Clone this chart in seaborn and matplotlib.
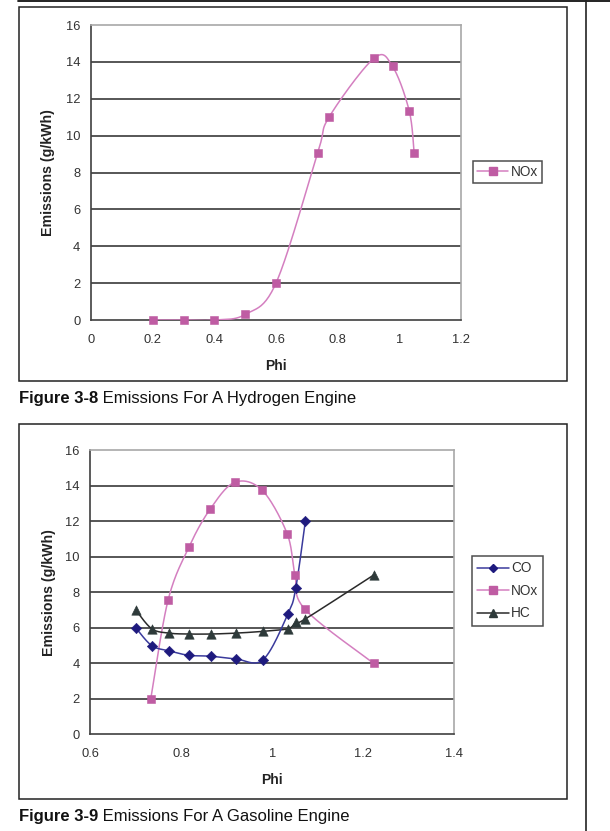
import numpy as np
import matplotlib
matplotlib.use("Agg")
import matplotlib.pyplot as plt
import seaborn as sns
from matplotlib.lines import Line2D
from matplotlib.patches import Rectangle

# ---------------- data ----------------
# Figure 3-8: hydrogen engine
h2_phi = [0.2, 0.3, 0.4, 0.5, 0.6, 0.735, 0.772, 0.918, 0.978, 1.032, 1.048]
h2_nox = [0.0, 0.0, 0.0, 0.3, 2.0, 9.05, 11.0, 14.2, 13.75, 11.35, 9.05]
h2_xticklabels = ["0", "0.2", "0.4", "0.6", "0.8", "1", "1.2"]

# Figure 3-9: gasoline engine
gas_co_phi = [0.70, 0.735, 0.773, 0.817, 0.865, 0.92, 0.98, 1.035, 1.052, 1.073]
gas_co = [6.0, 5.0, 4.7, 4.45, 4.4, 4.25, 4.2, 6.8, 8.25, 12.0]
gas_nox_phi = [0.733, 0.771, 0.817, 0.864, 0.918, 0.978, 1.033, 1.050, 1.072, 1.223]
gas_nox = [2.0, 7.55, 10.55, 12.7, 14.2, 13.75, 11.3, 9.0, 7.05, 4.0]
gas_hc_phi = [0.70, 0.735, 0.773, 0.817, 0.865, 0.92, 0.98, 1.035, 1.052, 1.073, 1.225]
gas_hc = [7.0, 5.95, 5.7, 5.65, 5.65, 5.7, 5.8, 5.95, 6.3, 6.5, 9.0]
gas_xticklabels = ["0.6", "0.8", "1", "1.2", "1.4"]

yticklabels = ["0", "2", "4", "6", "8", "10", "12", "14", "16"]
series_names = ["CO", "NOx", "HC"]

# ---------------- style ----------------
sns.set_style("white")
plt.rcParams["font.family"] = ["Liberation Sans", "DejaVu Sans"]

NOX_LINE, NOX_MK = "#D47FC0", "#BF5CA3"
CO_LINE, CO_MK = "#3A3A9C", "#1E1A7E"
HC_LINE, HC_MK = "#2A2A2A", "#2E3A3A"
GRID = "#3A3A3A"

W, H = 610, 831
fig = plt.figure(figsize=(W / 100, H / 100), dpi=100)
fig.patch.set_facecolor("white")


def fx(px):
    return px / W


def fy(py):
    return 1 - py / H


def smooth(x, y, n=25):
    """Excel-style smoothed line (Bezier through the points)."""
    P = np.column_stack([np.asarray(x, float), np.asarray(y, float)])
    out = [P[:1]]
    t = np.linspace(0, 1, n)[1:, None]
    for i in range(len(P) - 1):
        p0 = P[i - 1] if i > 0 else P[i]
        p1, p2 = P[i], P[i + 1]
        p3 = P[i + 2] if i + 2 < len(P) else P[i + 1]
        c1 = p1 + (p2 - p0) / 6
        c2 = p2 - (p3 - p1) / 6
        seg = (1 - t) ** 3 * p1 + 3 * (1 - t) ** 2 * t * c1 + 3 * (1 - t) * t ** 2 * c2 + t ** 3 * p2
        out.append(seg)
    Q = np.vstack(out)
    return Q[:, 0], Q[:, 1]


def draw(ax, x, y, line_c, mk, mk_c, s):
    sx, sy = smooth(x, y)
    sns.lineplot(x=sx, y=sy, sort=False, estimator=None, ax=ax, color=line_c, lw=1.1, zorder=3)
    sns.scatterplot(x=x, y=y, ax=ax, marker=mk, color=mk_c, s=s, edgecolor=mk_c,
                    linewidth=0.4, zorder=5, clip_on=False)


def style_axes(ax, xticklabels, label_x, label_y):
    xt = [float(v) for v in xticklabels]
    yt = [float(v) for v in yticklabels]
    ax.set_xlim(xt[0], xt[-1])
    ax.set_ylim(yt[0], yt[-1])
    ax.set_xticks(xt)
    ax.set_xticklabels(xticklabels)
    ax.set_yticks(yt)
    ax.set_yticklabels(yticklabels)
    ax.hlines(yt[1:-1], xt[0], xt[-1], colors=GRID, lw=1.2, zorder=1)
    for side in ["left", "bottom"]:
        ax.spines[side].set_color("#404040")
        ax.spines[side].set_linewidth(1.2)
    for side in ["top", "right"]:
        ax.spines[side].set_color("#A8A8A8")
        ax.spines[side].set_linewidth(1.2)
    ax.tick_params(axis="both", direction="out", length=3.2, width=1.0, color="#404040",
                   labelsize=9.3, labelcolor="#333333")
    ax.tick_params(axis="x", pad=7)
    ax.tick_params(axis="y", pad=4.5)
    ax.set_xlabel("Phi", fontsize=10, fontweight="bold", color="#222222")
    ax.set_ylabel("Emissions (g/kWh)", fontsize=10.2, fontweight="bold", color="#222222")
    ax.xaxis.set_label_coords(0.5, label_x)
    ax.xaxis.label.set_va("center")
    ax.yaxis.set_label_coords(label_y, 0.5)
    ax.yaxis.label.set_va("center")
    ax.set_facecolor("white")


# ---------------- page decorations ----------------
fig.add_artist(Line2D([fx(18), 1], [fy(0.8), fy(0.8)], transform=fig.transFigure, color="#111111", lw=1.3))
fig.add_artist(Line2D([fx(585.5), fx(585.5)], [0, 1], transform=fig.transFigure, color="#222222", lw=1.2))
for top, bot in [(7, 381), (424, 799)]:
    fig.add_artist(Rectangle((fx(19), fy(bot)), (567 - 19) / W, (bot - top) / H, transform=fig.transFigure,
                             fill=False, ec="#222222", lw=1.1))

# ---------------- Figure 3-8 ----------------
ax1 = fig.add_axes([fx(91), fy(320), (461 - 91) / W, (320 - 25) / H])
draw(ax1, h2_phi, h2_nox, NOX_LINE, "s", NOX_MK, 40)
style_axes(ax1, h2_xticklabels, (320 - 366) / 295, (48 - 91) / 370)
h1 = [Line2D([], [], color=NOX_LINE, lw=1.1, marker="s", ms=5.5, mfc=NOX_MK, mec=NOX_MK)]
leg1 = ax1.legend(h1, ["NOx"], loc="upper left", bbox_to_anchor=(fx(473), fy(161)),
                  bbox_transform=fig.transFigure, borderaxespad=0, frameon=True, fancybox=False,
                  fontsize=9.8, handlelength=2.3, handletextpad=0.15, borderpad=0.3)
leg1.get_frame().set_edgecolor("#222222")
leg1.get_frame().set_linewidth(1.1)
for t in leg1.get_texts():
    t.set_color("#333333")

# ---------------- Figure 3-9 ----------------
ax2 = fig.add_axes([fx(90.3), fy(734.3), (454 - 90.3) / W, (734.3 - 450.3) / H])
draw(ax2, gas_nox_phi, gas_nox, NOX_LINE, "s", NOX_MK, 40)
draw(ax2, gas_hc_phi, gas_hc, HC_LINE, "^", HC_MK, 46)
draw(ax2, gas_co_phi, gas_co, CO_LINE, "D", CO_MK, 28)
style_axes(ax2, gas_xticklabels, (734.3 - 780) / 284, (48.6 - 90.3) / 363.7)
h2 = [
    Line2D([], [], color=CO_LINE, lw=1.1, marker="D", ms=4.5, mfc=CO_MK, mec=CO_MK),
    Line2D([], [], color=NOX_LINE, lw=1.1, marker="s", ms=5.5, mfc=NOX_MK, mec=NOX_MK),
    Line2D([], [], color=HC_LINE, lw=1.1, marker="^", ms=6, mfc=HC_MK, mec=HC_MK),
]
leg2 = ax2.legend(h2, series_names, loc="upper left", bbox_to_anchor=(fx(472), fy(556)),
                  bbox_transform=fig.transFigure, borderaxespad=0, frameon=True, fancybox=False,
                  fontsize=9.8, handlelength=2.3, handletextpad=0.15, borderpad=0.4, labelspacing=0.62)
leg2.get_frame().set_edgecolor("#222222")
leg2.get_frame().set_linewidth(1.1)
for t in leg2.get_texts():
    t.set_color("#333333")

# ---------------- captions ----------------
captions = [(399, "Figure 3-8", " Emissions For A Hydrogen Engine"),
            (817, "Figure 3-9", " Emissions For A Gasoline Engine")]
for ypx, bold, rest in captions:
    t1 = fig.text(fx(19), fy(ypx), bold, fontsize=12, fontweight="bold", va="center", ha="left", color="#111111")
    ax1.annotate(rest, xy=(1, 0), xycoords=t1, va="bottom", ha="left", fontsize=12,
                 color="#111111", annotation_clip=False)

fig.savefig("out.png", dpi=100, facecolor="white")
